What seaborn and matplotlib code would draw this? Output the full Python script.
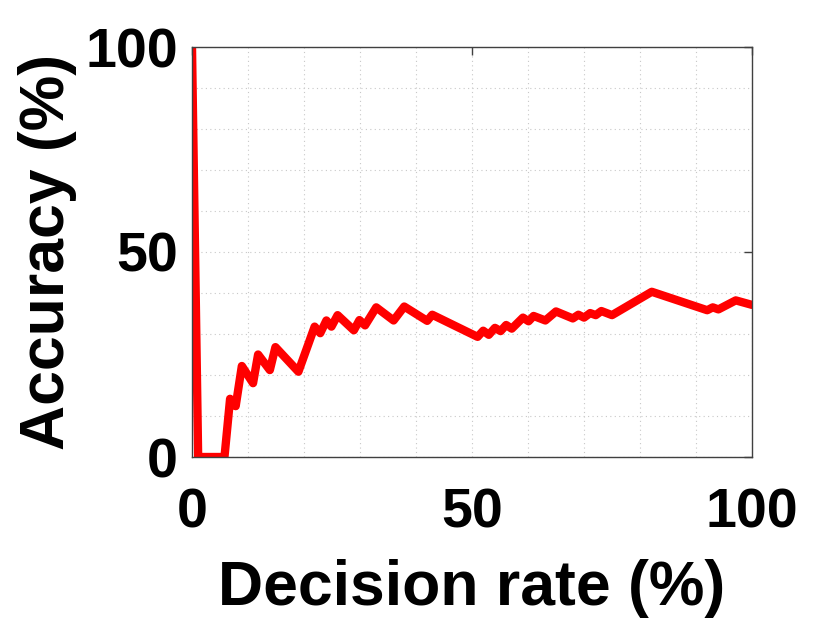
import matplotlib
matplotlib.use("Agg")
import matplotlib.pyplot as plt
import seaborn as sns
import pandas as pd
from matplotlib.ticker import MultipleLocator

decision_rate = [0, 1.1, 5.8, 6.8, 7.8, 8.9, 10.9, 11.8, 13.9, 14.9, 19.0, 21.9, 22.9,
                 24.0, 24.9, 26.0, 28.9, 29.9, 30.9, 32.9, 36.0, 37.9, 42.0, 42.9, 51.0,
                 52.0, 53.0, 54.1, 55.1, 56.1, 57.1, 59.1, 60.1, 61.0, 63.1, 65.0, 68.0,
                 69.0, 70.0, 71.1, 72.1, 73.1, 75.0, 82.1, 92.0, 93.0, 94.0, 97.1, 100]
accuracy = [100, 0, 0, 14.2, 12.4, 22.2, 18.0, 25.0, 21.2, 26.8, 20.8, 31.8, 30.2,
            33.3, 31.8, 34.6, 30.9, 33.4, 32.1, 36.5, 33.3, 36.7, 33.2, 34.7, 29.3,
            30.8, 29.8, 31.5, 30.7, 32.2, 31.3, 34.0, 33.1, 34.4, 33.3, 35.5, 33.8,
            34.7, 34.0, 35.1, 34.6, 35.6, 34.6, 40.3, 35.8, 36.5, 36.0, 38.2, 37.1]
tick_values = [0, 50, 100]

sns.set_theme(style="white")
plt.rcParams['font.family'] = ['Liberation Sans', 'DejaVu Sans']
plt.rcParams['text.color'] = 'black'
plt.rcParams['axes.labelcolor'] = 'black'
plt.rcParams['xtick.color'] = 'black'
plt.rcParams['ytick.color'] = 'black'

df = pd.DataFrame({"rate": decision_rate, "acc": accuracy})

fig = plt.figure(figsize=(8.3, 6.24), dpi=100)
ax = fig.add_axes([192/830, 1-457/624, (752-192)/830, (457-47)/624])
sns.lineplot(data=df, x="rate", y="acc", ax=ax, color="#ff0000", linewidth=6,
             sort=False, estimator=None)
ax.set_xlim(0, 100)
ax.set_ylim(0, 100)
ax.set_xticks(tick_values)
ax.set_yticks(tick_values)
ax.xaxis.set_minor_locator(MultipleLocator(10))
ax.yaxis.set_minor_locator(MultipleLocator(10))
ax.grid(True, which="both", linestyle=(0, (1, 3)), color="#c8c8c8", linewidth=0.8)
ax.tick_params(which="major", direction="in", length=6, width=1, color="#404040",
               labelcolor="black", top=True, right=True, labelsize=40, pad=10)
ax.tick_params(axis="x", which="major", pad=22)
ax.tick_params(which="minor", length=0)
for lab in ax.get_xticklabels() + ax.get_yticklabels():
    lab.set_fontweight("bold")
for s in ax.spines.values():
    s.set_color("#404040")
    s.set_linewidth(1)
ax.set_xlabel("Decision rate (%)", fontsize=45, fontweight="bold", labelpad=14, color="black")
ax.set_ylabel("Accuracy (%)", fontsize=45, fontweight="bold", labelpad=6, color="black")
fig.savefig("out.png", dpi=100)
